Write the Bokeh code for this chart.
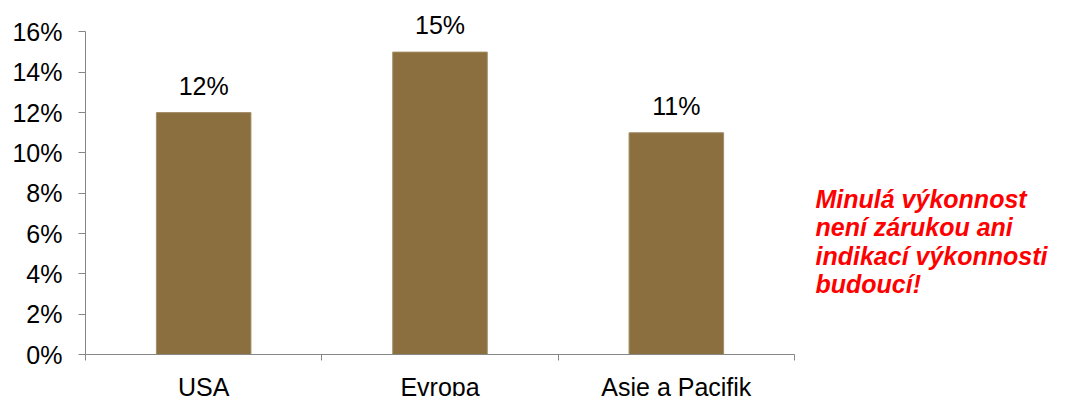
from bokeh.plotting import figure
from bokeh.models import (Range1d, FixedTicker, PrintfTickFormatter,
                          CustomJSTickFormatter, Label, ColumnDataSource)
from bokeh.core.properties import value
from bokeh.embed import file_html
from bokeh.resources import INLINE
import numpy as np

# Regional returns (%)
categories = ["USA", "Evropa", "Asie a Pacifik"]
returns = [12, 15, 11]
y_ticks = [0, 2, 4, 6, 8, 10, 12, 14, 16]
note_lines = ["Minulá výkonnost", "není zárukou ani",
              "indikací výkonnosti", "budoucí!"]

FONT = "Liberation Sans"
AXIS_GREY = "#868686"
BAR_COLOR = "#8B6F3F"

n = len(categories)
centers = np.arange(n) + 0.5
source = ColumnDataSource(dict(
    x=centers,
    top=returns,
    label=[f"{v}%" for v in returns],
))

# plotting area spans to the right edge; the category axis covers 709 px of it
FRAME_W = 981
AXIS_W = 709

p = figure(
    width=1066, height=396,
    frame_width=FRAME_W, frame_height=353,
    min_border_left=85, min_border_right=0,
    min_border_top=1, min_border_bottom=42,
    x_range=Range1d(0, n * FRAME_W / AXIS_W),
    y_range=Range1d(0, 17.51),
    output_backend="svg", toolbar_location=None,
    background_fill_color="white", border_fill_color="white",
)
p.outline_line_color = None
p.grid.visible = False

p.vbar(x="x", top="top", width=0.4, source=source,
       fill_color=BAR_COLOR, line_color="#A38D66", line_width=1)

p.text(x="x", y="top", text="label", source=source,
       text_font=value(FONT), text_font_size="25px", text_color="black",
       text_align="center", text_baseline="alphabetic", y_offset=-27)

# y axis
ya = p.yaxis[0]
ya.ticker = FixedTicker(ticks=y_ticks)
ya.formatter = PrintfTickFormatter(format="%d%%")
ya.bounds = (0, 16)
ya.axis_line_color = AXIS_GREY
ya.major_tick_line_color = AXIS_GREY
ya.major_tick_out = 7
ya.major_tick_in = 0
ya.minor_tick_line_color = None
ya.major_label_text_font = FONT
ya.major_label_text_font_size = "25px"
ya.major_label_text_color = "black"
ya.major_label_standoff = 16

# x axis: ticks on category boundaries, names at centres
xa = p.xaxis[0]
xa.bounds = (0, n)
xa.ticker = FixedTicker(ticks=list(centers), minor_ticks=list(range(n + 1)))
xa.formatter = CustomJSTickFormatter(
    args=dict(names=categories),
    code="return names[Math.floor(tick)];")
xa.axis_line_color = AXIS_GREY
xa.major_tick_line_color = None
xa.major_tick_out = 0
xa.minor_tick_line_color = AXIS_GREY
xa.minor_tick_out = 6
xa.minor_tick_in = 0
xa.major_label_text_font = FONT
xa.major_label_text_font_size = "25px"
xa.major_label_text_color = "black"
xa.major_label_standoff = 12

# disclaimer to the right of the bars
for i, line in enumerate(note_lines):
    p.add_layout(Label(
        x=730, y=156 - i * 28.5, x_units="screen", y_units="screen",
        text=line, text_font=FONT, text_font_size="25px",
        text_font_style="bold italic", text_color="#FF0000",
        text_baseline="alphabetic", text_align="left"))

open("out.html", "w").write(file_html(p, INLINE))
